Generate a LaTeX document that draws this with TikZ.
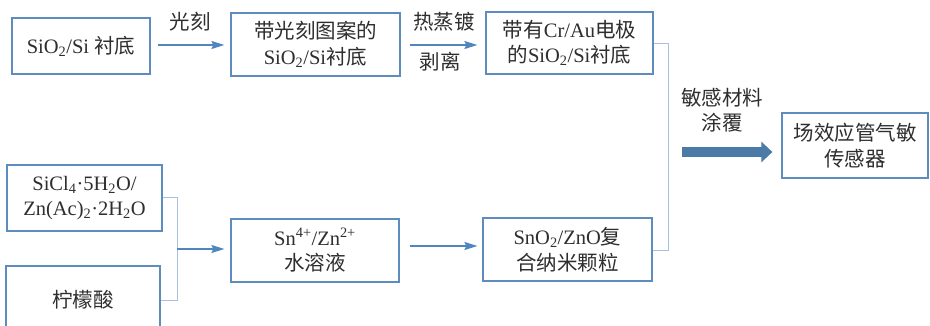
\documentclass[tikz,border=0pt]{standalone}
\usepackage{fontspec}
\setmainfont{Liberation Serif}
\newfontfamily\cjk{Noto Sans CJK SC}
\usetikzlibrary{arrows.meta}
\newcommand\zh[1]{{\cjk #1}}
\definecolor{boxc}{HTML}{5E8CBE}
\definecolor{linec}{HTML}{A8C2DE}
\definecolor{arrc}{HTML}{4F86BD}
\definecolor{bigc}{HTML}{4D7BA8}
\definecolor{txtc}{HTML}{2E2E2E}
\tikzset{
  box/.style={draw=boxc, line width=1.2pt, fill=white, align=center, inner sep=0pt,
    text=txtc, font=\fontsize{20.5}{25.5}\selectfont},
  arr/.style={draw=arrc, line width=1.7pt, -{Stealth[length=13pt,width=8pt,inset=2pt]}},
  brk/.style={draw=linec, line width=1pt},
  lbl/.style={text=txtc, font=\fontsize{20.5}{25.5}\selectfont, inner sep=0pt, align=center},
  bigarr/.style={draw=bigc, line width=10pt, -{Triangle[length=11pt,width=20pt]}}
}
\begin{document}
\begin{tikzpicture}[x=1pt,y=-1pt]
\useasboundingbox (0,0) rectangle (930,326);
\clip (0,0) rectangle (930,326);
\node[box, minimum width=138pt, minimum height=56pt] (b1) at (81,46) {SiO\textsubscript{2}/Si \zh{衬底}};
\node[box, minimum width=169pt, minimum height=63pt] (b2) at (315.5,44.5) {\zh{带光刻图案的}\\SiO\textsubscript{2}/Si\zh{衬底}};
\node[box, minimum width=167pt, minimum height=62pt] (b3) at (569.5,43) {\zh{带有}Cr/Au\zh{电极}\\\zh{的}SiO\textsubscript{2}/Si\zh{衬底}};
\node[box, minimum width=155pt, minimum height=66pt] (b4) at (84.5,198) {SiCl\textsubscript{4}·5H\textsubscript{2}O/\\Zn(Ac)\textsubscript{2}·2H\textsubscript{2}O};
\node[box, minimum width=154pt, minimum height=68pt] (b5) at (83,300) {\zh{柠檬酸}};
\node[box, minimum width=168pt, minimum height=63pt] (b6) at (315,250.5) {Sn\textsuperscript{4+}/Zn\textsuperscript{2+}\\\zh{水溶液}};
\node[box, minimum width=169pt, minimum height=63pt] (b7) at (567.5,249.5) {SnO\textsubscript{2}/ZnO\zh{复}\\\zh{合纳米颗粒}};
\node[box, minimum width=146pt, minimum height=65pt] (b8) at (855,145.5) {\zh{场效应管气敏}\\\zh{传感器}};
% labels
\node[lbl] (l1) at (190,22) {\zh{光刻}};
\node[lbl] (l2) at (444,22) {\zh{热蒸镀}};
\node[lbl] (l3) at (440,62) {\zh{剥离}};
\node[lbl] (l4) at (722,110) {\zh{敏感材料}\\\zh{涂覆}};
% top arrows
\draw[arr] ([xshift=7pt]b1.east |- 0,45) -- ([xshift=-6pt]b2.west |- 0,45);
\draw[arr] ([xshift=9pt]b2.east |- 0,45) -- ([xshift=-8pt]b3.west |- 0,45);
% bracket left
\coordinate (j1) at (177,249);
\draw[brk] (b4.east) -- (b4.east -| j1) -- (b5.east -| j1) -- (b5.east);
\draw[arr] (j1) -- ([xshift=-6pt]b6.west |- j1);
\draw[arr] ([xshift=10pt]b6.east |- 0,246) -- ([xshift=-5pt]b7.west |- 0,246);
% bracket right
\coordinate (j2) at (668,152);
\draw[brk] (b3.east |- 0,44) -- (j2 |- 0,44) -- (j2 |- 0,250) -- (b7.east |- 0,250);
% big arrow
\coordinate (ta) at (682,152);
\draw[bigarr] (ta) -- ([xshift=-9pt]b8.west |- ta);
\end{tikzpicture}
\end{document}
